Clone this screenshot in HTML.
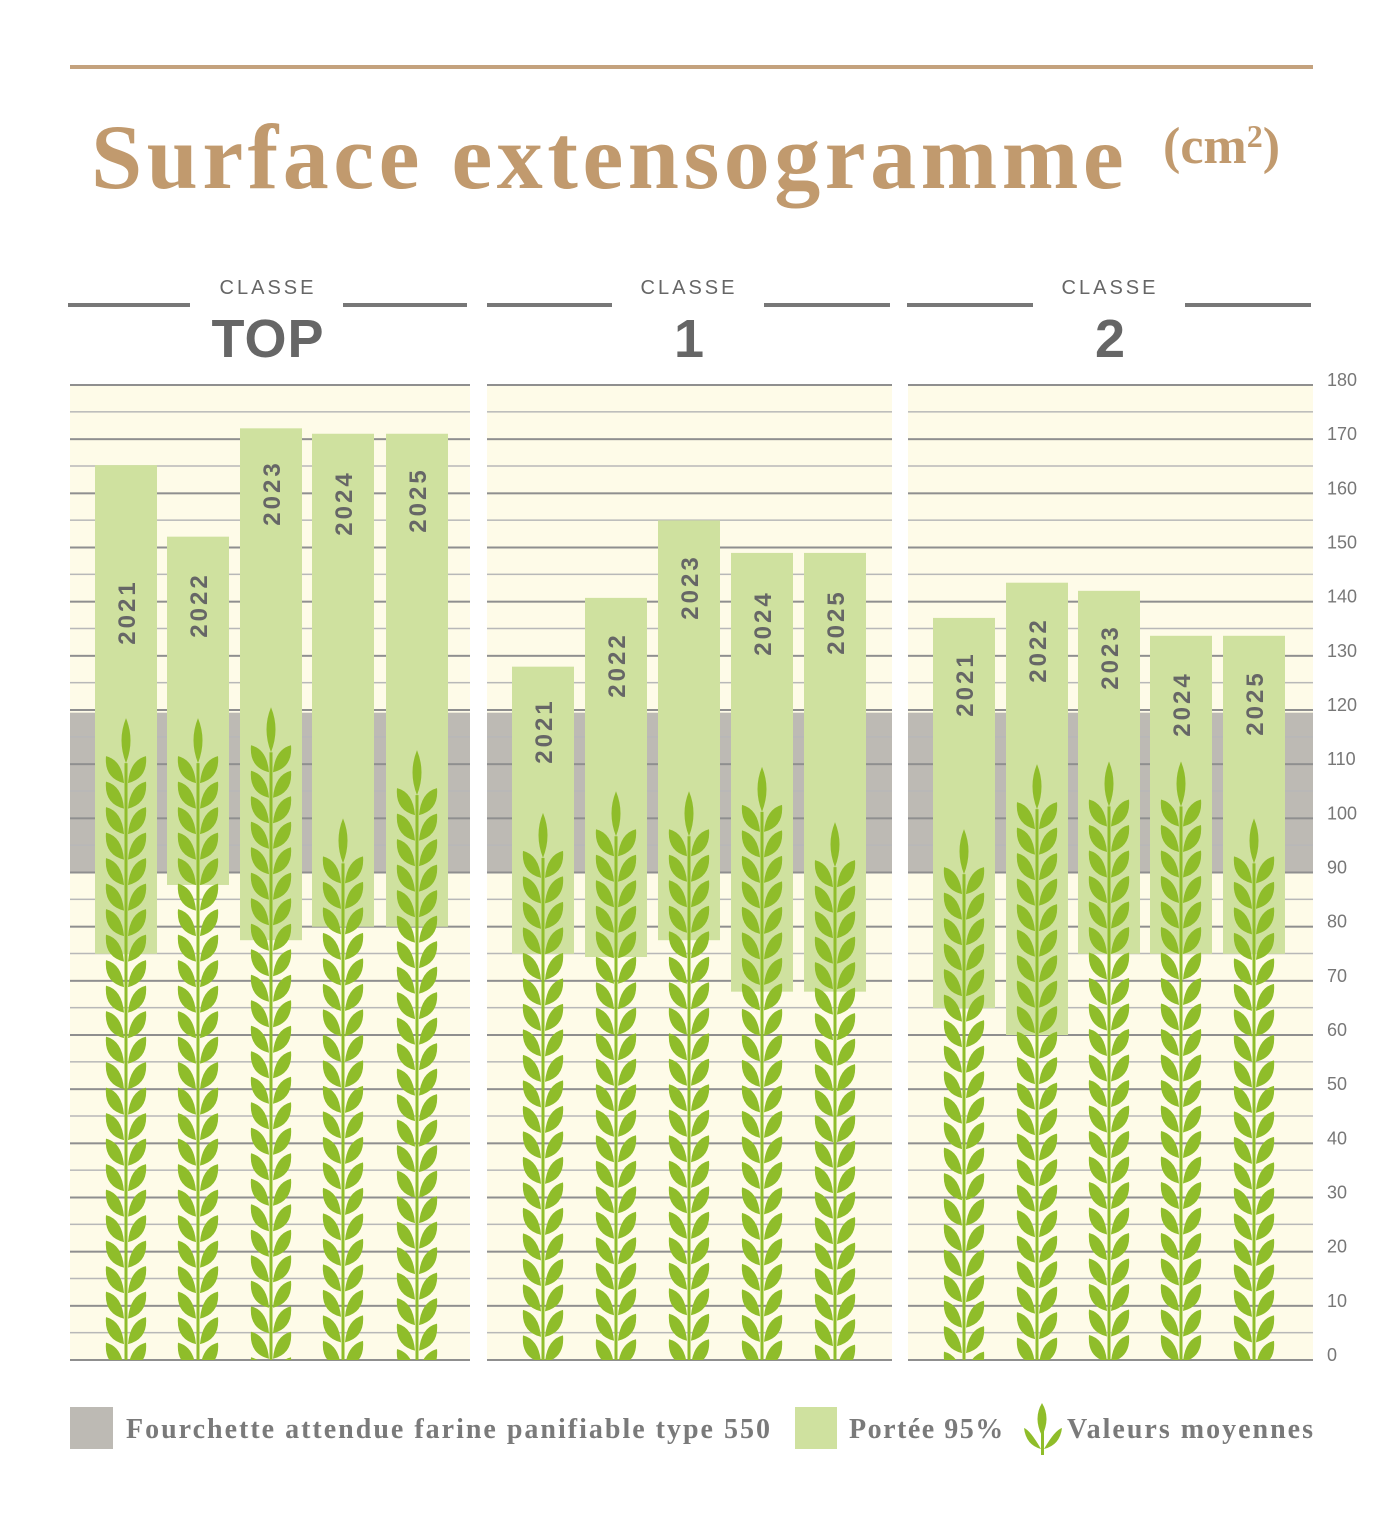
<!DOCTYPE html>
<html><head><meta charset="utf-8"><style>
body{margin:0;background:#fff;width:1388px;height:1525px;overflow:hidden;position:relative;font-family:"Liberation Sans",sans-serif}
.t{position:absolute;white-space:nowrap}
</style></head><body>
<div style="position:absolute;left:70px;top:65px;width:1243px;height:4px;background:#c4a27e"></div>
<div class="t" style="left:91px;top:104px;font-family:'Liberation Serif',serif;font-weight:bold;font-size:92px;color:#c19a6e;letter-spacing:4.5px">Surface extensogramme</div>
<div class="t" style="left:1163px;top:117px;font-family:'Liberation Serif',serif;font-weight:bold;font-size:52px;color:#c19a6e">(cm<span style="font-size:32px;vertical-align:16px">2</span>)</div>
<svg width="1388" height="1525" style="position:absolute;left:0;top:0" id="s" xmlns="http://www.w3.org/2000/svg">
<g fill="#777">
<rect x="68" y="303" width="122" height="4"/><rect x="343" y="303" width="124" height="4"/>
<rect x="487" y="303" width="125" height="4"/><rect x="764" y="303" width="126" height="4"/>
<rect x="907" y="303" width="126" height="4"/><rect x="1185" y="303" width="126" height="4"/>
</g>
<g font-family="Liberation Sans, sans-serif" fill="#666" text-anchor="middle">
<text x="268" y="294" font-size="20" letter-spacing="3">CLASSE</text>
<text x="268" y="357" font-size="54" font-weight="bold" letter-spacing="1">TOP</text>
<text x="689" y="294" font-size="20" letter-spacing="3">CLASSE</text>
<text x="689" y="357" font-size="54" font-weight="bold">1</text>
<text x="1110" y="294" font-size="20" letter-spacing="3">CLASSE</text>
<text x="1110" y="357" font-size="54" font-weight="bold">2</text>
</g>
<g id="bg"></g><g id="grid"></g><g id="bars"></g><g id="wheat"></g><g id="lbl"></g>
<g font-family="Liberation Sans, sans-serif" font-size="18" fill="#777" id="ax"></g>
<rect x="70" y="1407" width="43" height="42" fill="#bdbab4"/>
<rect x="795" y="1407" width="42" height="42" fill="#cfe19f"/>
<g fill="#8fbd2a">
<rect x="1041" y="1420" width="3" height="35"/>
<path d="M1042,1436 Q1033,1418 1042,1403 Q1051,1418 1042,1436Z"/>
<path d="M1041,1449 Q1030,1430 1024,1428 Q1026,1445 1041,1449Z"/>
<path d="M1044,1449 Q1055,1430 1062,1428 Q1060,1445 1044,1449Z"/>
</g>
<g font-family="Liberation Serif, serif" font-size="28" fill="#7a7a7a" font-weight="bold">
<text x="126" y="1438" letter-spacing="2">Fourchette attendue farine panifiable type 550</text>
<text x="849" y="1438" letter-spacing="1.5">Portée 95%</text>
<text x="1067" y="1438" letter-spacing="2">Valeurs moyennes</text>
</g>
</svg>
<script>
const NS="http://www.w3.org/2000/svg";
function el(p,t,a){const e=document.createElementNS(NS,t);for(const k in a)e.setAttribute(k,a[k]);(typeof p=="string"?document.getElementById(p):p).appendChild(e);return e;}
const Y=v=>1360-v*975/180;
const panels=[[70,470],[487,892],[908,1313]];
panels.forEach(([a,b])=>{
 el("bg","rect",{x:a,y:385,width:b-a,height:975,fill:"#fefbe8"});
 el("bg","rect",{x:a,y:Y(119.5),width:b-a,height:Y(90)-Y(119.5),fill:"#bdbab4"});
 for(let v=0;v<=180;v+=5){
  el("grid","rect",{x:a,y:Y(v)-1,width:b-a,height:v%10==0?2:1.5,fill:v%10==0?"#8f8f8f":"#b8b8b8"});
 }
});
for(let v=0;v<=180;v+=10){const t=el("ax","text",{x:1327,y:Y(v)+1});t.textContent=v;}
const D=[
[95,165.2,75,118.5,612],[167,152,87.7,118.5,605],[240,172,77.5,120.5,493],[312,171,80,100,503],[386,171,80,112.6,500],
[512,128,75,101,731],[585,140.7,74.4,105,665],[658,155,77.5,105,587],[731,149,68,109.5,623],[804,149,68,99.3,622],
[933,137,65,98,684],[1006,143.5,60,110,650],[1078,142,75,110.5,657],[1150,133.7,75,110.5,704],[1223,133.7,75,100,703]];
const yrs=["2021","2022","2023","2024","2025"];
const defs=el("s","defs",{});const cp=el(defs,"clipPath",{id:"cl"});el(cp,"rect",{x:0,y:0,width:1388,height:1360});
D.forEach((d,i)=>{
 const [x,top,bot,tip,lc]=d;
 el("bars","rect",{x:x,y:Y(top),width:62,height:Y(bot)-Y(top),fill:"#cfe19f"});
 const cx=x+31, ty=Y(tip);
 let p=`M${cx},${ty} Q${cx+9},${ty+22} ${cx},${ty+45} Q${cx-9},${ty+22} ${cx},${ty}Z`;
 for(let y=ty+38;y<1365;y+=25.5){
  p+=`M${cx-2},${y+27} Q${cx-22},${y+22} ${cx-20},${y} Q${cx-4},${y+4} ${cx-2},${y+27}Z`;
  p+=`M${cx+2},${y+27} Q${cx+22},${y+22} ${cx+20},${y} Q${cx+4},${y+4} ${cx+2},${y+27}Z`;
 }
 el("wheat","path",{d:p,fill:"#8fbd2a","clip-path":"url(#cl)"});
 el("wheat","rect",{x:cx-1.5,y:ty+45,width:3,height:1360-ty-45,fill:"#8fbd2a"});
 const t=el("lbl","text",{x:0,y:0,transform:`translate(${cx+9},${lc}) rotate(-90)`,"text-anchor":"middle","font-size":"24","font-weight":"bold",fill:"#666","letter-spacing":"3","font-family":"Liberation Sans, sans-serif"});
 t.textContent=yrs[i%5];
});
</script>
</body></html>
